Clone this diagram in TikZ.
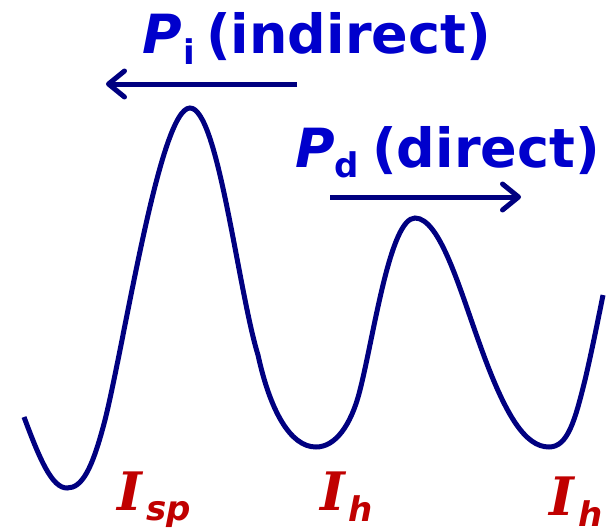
\documentclass[tikz,border=0pt]{standalone}
\usepackage{fontspec}
\setmainfont{DejaVu Sans}
\newfontfamily\serifI{DejaVu Serif}
\usetikzlibrary{arrows.meta}
\definecolor{navy}{RGB}{0,0,128}
\definecolor{lblue}{RGB}{0,0,204}
\definecolor{lred}{RGB}{192,0,0}
\tikzset{
  curveline/.style={draw=navy, line width=5pt, line cap=butt},
  arrowline/.style={draw=navy, line width=5pt, -{Straight Barb[length=16pt,width=26pt,line cap=round, line join=round]}},
  bigtxt/.style={inner sep=0pt, anchor=base west, text=lblue, font=\fontsize{54}{60}\selectfont\bfseries},
  subtxt/.style={inner sep=0pt, anchor=base west, text=lblue, font=\fontsize{34}{38}\selectfont\bfseries},
  redI/.style={inner sep=0pt, anchor=base west, text=lred, font=\fontsize{53}{58}\selectfont\serifI\bfseries\itshape},
  redsub/.style={inner sep=0pt, anchor=base west, text=lred, font=\fontsize{34}{38}\selectfont\bfseries\itshape}
}
\begin{document}
\begin{tikzpicture}[x=1pt,y=-1pt]
\useasboundingbox (0,0) rectangle (612,530);
% curve
\draw[curveline] (24,417) .. controls (40,460) and (52,488) .. (67,488)
  .. controls (82,488) and (92,470) .. (105,420)
  .. controls (125,340) and (160,108) .. (190,108)
  .. controls (218,108) and (238,290) .. (258,355)
  .. controls (270,410) and (290,447) .. (316,447)
  .. controls (335,447) and (351,426) .. (360,390)
  .. controls (374,335) and (390,218) .. (415,218)
  .. controls (440,218) and (460,290) .. (480,345)
  .. controls (505,415) and (525,447) .. (549,447)
  .. controls (568,447) and (575,420) .. (585,380)
  .. controls (592,350) and (598,320) .. (603,295);
% arrows
\coordinate (pistart) at (297,84);
\coordinate (piend) at (106,84);
\coordinate (pdstart) at (330,197);
\coordinate (pdend) at (521,197);
\draw[arrowline] (pistart) -- (piend);
\draw[arrowline] (pdstart) -- (pdend);
% labels
\node[bigtxt] (piP) at (142,53) {\itshape P};
\node[subtxt] (pii) at (183,64) {i};
\node[bigtxt] (pitxt) at (206,53) {(indirect)};
\node[bigtxt] (pdP) at (295,167) {\itshape P};
\node[subtxt] (pdd) at (334,177) {d};
\node[bigtxt] (pdtxt) at (372,167) {(direct)};
\node[redI] (i1) at (117,510) {I};
\node[redsub] (s1) at (146,520) {sp};
\node[redI] (i2) at (320,510) {I};
\node[redsub] (s2) at (348,521) {h};
\node[redI] (i3) at (549,515) {I};
\node[redsub] (s3) at (578,526) {h};
\end{tikzpicture}
\end{document}
